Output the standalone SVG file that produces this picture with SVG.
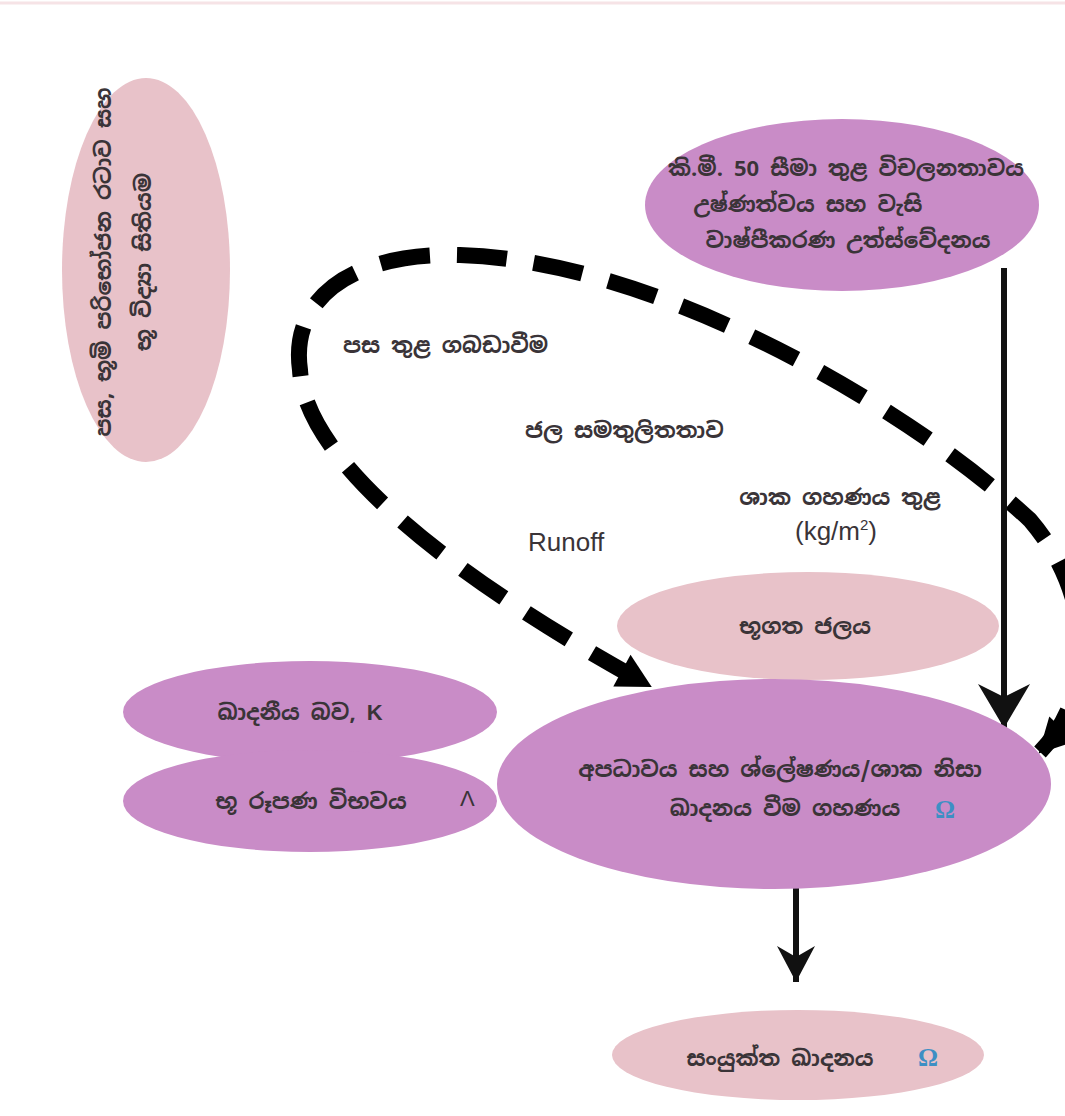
<svg xmlns="http://www.w3.org/2000/svg" width="1065" height="1116" viewBox="0 0 1065 1116">
<style>
.pink{fill:#e8c2c9}
.purple{fill:#c98cc7}
.si{font-family:"Noto Sans Sinhala","Noto Sans","Liberation Sans",sans-serif;font-size:22px;fill:#3a3438;font-weight:bold}
.lat{font-family:"Liberation Sans",Arial,sans-serif;font-size:22px;fill:#3a3438}
.big{font-size:26px}
.om{font-family:"Liberation Serif","Times New Roman",serif;font-size:25px;fill:#3d8fc4;font-weight:bold}
.solid{stroke:#111;stroke-width:6;fill:none}
.dash{stroke:#000;stroke-width:16;fill:none;stroke-dasharray:50 27}
</style>
<defs>
<marker id="barbL" markerUnits="userSpaceOnUse" viewBox="-46 -27 48 54" refX="0" refY="0" markerWidth="48" markerHeight="54" orient="auto">
<path d="M0,0 L-44,-26 L-31,0 L-44,26 Z" fill="#111"/>
</marker>
<marker id="barbS" markerUnits="userSpaceOnUse" viewBox="-38 -21 40 42" refX="0" refY="0" markerWidth="40" markerHeight="42" orient="auto">
<path d="M0,0 L-36,-19 L-25,0 L-36,19 Z" fill="#111"/>
</marker>
<marker id="tri" markerUnits="userSpaceOnUse" viewBox="-34 -20 36 40" refX="0" refY="0" markerWidth="36" markerHeight="40" orient="auto-start-reverse">
<path d="M2,0 L-32,-18 L-32,18 Z" fill="#000"/>
</marker>
</defs>
<rect width="1065" height="1116" fill="#ffffff"/>
<line x1="0" y1="3" x2="1065" y2="3" stroke="#f6e3e6" stroke-width="3"/>

<g id="connectors">
<path class="dash" d="M1040 752 C1100 690 1090 590 1030 520 C900 400 650 260 460 255 C350 252 290 300 300 370 C305 465 465 585 650 686" marker-start="url(#tri)" marker-end="url(#tri)"/>
<line class="solid" x1="1004" y1="268" x2="1004" y2="728" marker-end="url(#barbL)"/>
<line class="solid" x1="796" y1="888" x2="796" y2="982" marker-end="url(#barbS)"/>
</g>

<g id="node-soil-map">
<ellipse class="pink" cx="146" cy="270" rx="84" ry="192"/>
<text class="si" text-anchor="middle" transform="translate(111,262) rotate(-90)">පස, භූමි පරිභෝජන රටාව සහ</text>
<text class="si" text-anchor="middle" transform="translate(151,262) rotate(-90)">භූ විද්‍යා සිතියම</text>
</g>

<g id="node-climate">
<ellipse class="purple" cx="842" cy="205" rx="197" ry="86"/>
<text class="si" text-anchor="middle" x="846" y="176">කි.මී. 50 සීමා තුළ විචලනතාවය</text>
<text class="si" text-anchor="middle" x="808" y="212">උෂ්ණත්වය සහ වැසි</text>
<text class="si" text-anchor="middle" x="848" y="248">වාෂ්පීකරණ උත්ස්වේදනය</text>
</g>

<g id="labels-water-balance">
<text class="si" x="343" y="353">පස තුළ ගබඩාවීම</text>
<text class="si" x="525" y="438">ජල සමතුලිතතාව</text>
<text class="si" text-anchor="middle" x="840" y="505">ශාක ගහණය තුළ</text>
<text class="lat big" text-anchor="middle" x="836" y="540">(kg/m<tspan font-size="15" dy="-10">2</tspan><tspan dy="10">)</tspan></text>
<text class="lat big" x="528" y="551">Runoff</text>
</g>

<g id="node-groundwater">
<ellipse class="pink" cx="808" cy="626" rx="191" ry="54"/>
<text class="si" text-anchor="middle" x="805" y="634">භූගත ජලය</text>
</g>

<g id="node-erodibility">
<ellipse class="purple" cx="310" cy="712" rx="187" ry="51"/>
<ellipse class="purple" cx="310" cy="801" rx="187" ry="51"/>
<text class="si" text-anchor="middle" x="300" y="720">ඛාදනීය බව, <tspan class="lat">K</tspan></text>
<text class="si" text-anchor="middle" x="311" y="809">භූ රූපණ විභවය</text>
<text class="lat" x="460" y="806" font-size="24">Λ</text>
</g>

<g id="node-erosion">
<ellipse class="purple" cx="774" cy="784" rx="277" ry="105"/>
<text class="si" text-anchor="middle" x="780" y="777">අපධාවය සහ ශ්ලේෂණය/ශාක නිසා</text>
<text class="si" text-anchor="middle" x="785" y="816">ඛාදනය වීම ගහණය</text>
<text class="om" x="935" y="818">Ω</text>
</g>

<g id="node-combined">
<ellipse class="pink" cx="798" cy="1055" rx="186" ry="45"/>
<text class="si" text-anchor="middle" x="780" y="1066">සංයුක්ත ඛාදනය</text>
<text class="om" x="918" y="1066">Ω</text>
</g>
</svg>
